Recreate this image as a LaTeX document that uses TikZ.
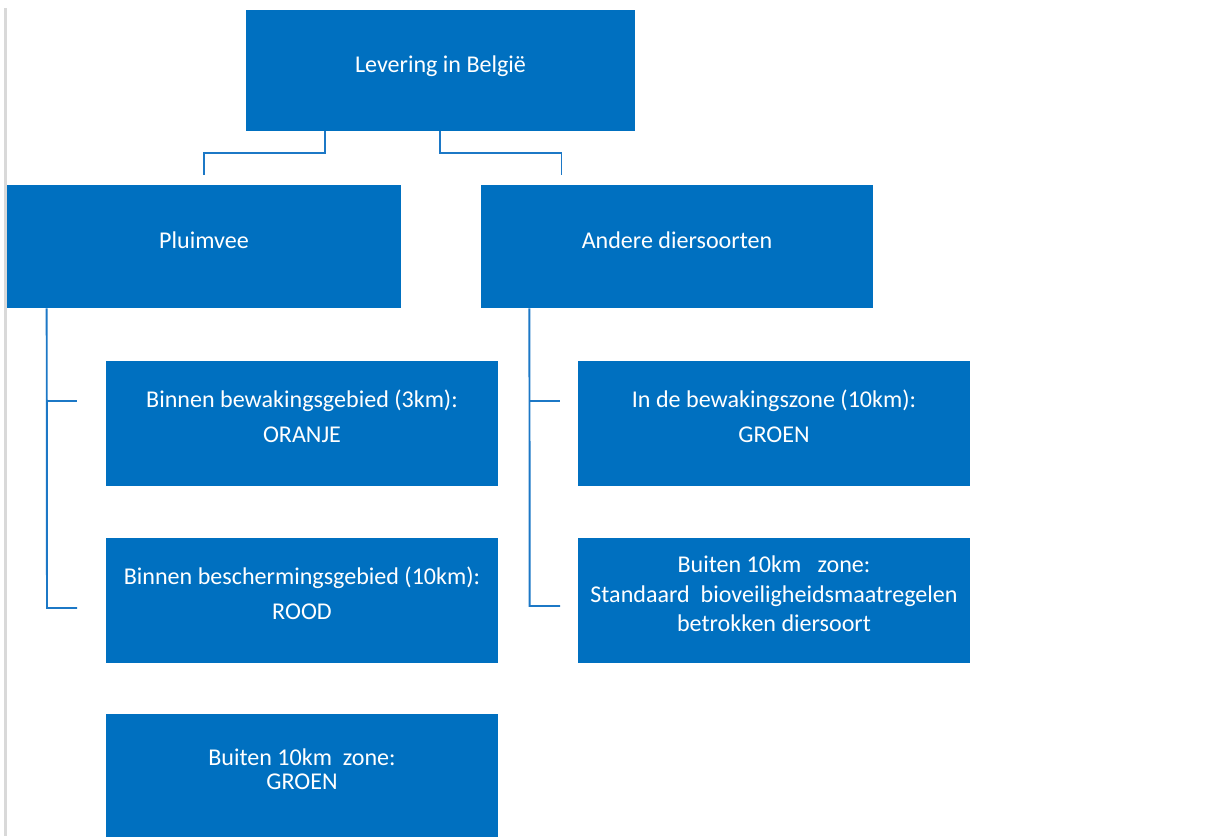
\documentclass[tikz,border=0pt]{standalone}
\usepackage{fontspec}
\setmainfont{Carlito}
\usetikzlibrary{positioning}
\definecolor{boxblue}{RGB}{0,112,192}
\definecolor{linkblue}{RGB}{28,120,198}
\definecolor{edgegray}{RGB}{217,217,217}

\begin{document}
\begin{tikzpicture}[x=0.02cm,y=-0.02cm,
			box/.style={rectangle,fill=boxblue,draw=none,text=white,inner sep=0pt,
				minimum width=7.84cm,minimum height=2.5cm,align=center,
				font=\fontsize{13.7}{16}\selectfont,
				execute at begin node={\rule{0pt}{10pt}},
				execute at end node={\rule[-8pt]{0pt}{0pt}}},
			link/.style={draw=linkblue,line width=1.1pt}]
			\useasboundingbox (0,0) rectangle (1217,836);
			\draw [edgegray,line width=1.2pt] (5.5,8) -- (5.5,836);
			% top level
			\node (top) [box,minimum width=7.78cm,minimum height=2.42cm] at (440.5,70.5) {Levering in België};
			\node (pluim) [box,minimum width=7.88cm,minimum height=2.46cm] at (204,246.5) {Pluimvee};
			\node (andere) [box,minimum height=2.46cm] at (677,246.5) {Andere diersoorten};
			% pluimvee
			\node (binnen3) [box] at (302,423.5) {Binnen bewakingsgebied (3km):\\[3.8pt] ORANJE};
			\node (binnen10) [box] at (302,600.5) {Binnen beschermingsgebied (10km):\\[3.8pt] ROOD};
			\node (buitenpl) [box,minimum height=2.48cm] at (302,776) {Buiten 10km~ zone:\\[-2.4pt] GROEN};
			% andere diersoorten
			\node (zone10) [box] at (774,423.5) {In de bewakingszone (10km):\\[3.8pt] GROEN};
			\node (buitenan) [box] at (774,600.5)
				{Buiten 10km~~ zone:\\[0.8pt] Standaard~ bioveiligheidsmaatregelen\\[0.4pt] betrokken diersoort};

			\coordinate (pluim-in) at (204,175);
			\coordinate (andere-in) at (561.5,175);
			\draw [link] (top.south west) ++(79,0) -- ++(0,22) -| (pluim-in);
			\draw [link] (top.south west) ++(194,0) -- ++(0,22) -| (andere-in);

			\coordinate (pl-stem) at (47,608);
			\coordinate (binnen3-in) at (77,401);
			\coordinate (binnen10-in) at (77,608);
			\draw [link] (pluim.south west) ++(40,0) -- (pl-stem) -- (binnen10-in);
			\draw [link] (pl-stem |- binnen3-in) -- (binnen3-in);

			\coordinate (an-stem) at (529.7,606);
			\coordinate (zone10-in) at (560,401);
			\coordinate (buitenan-in) at (560,606);
			\draw [link] (andere.south west) ++(48.7,0) -- (an-stem) -- (buitenan-in);
			\draw [link] (an-stem |- zone10-in) -- (zone10-in);
		\end{tikzpicture}
\end{document}
